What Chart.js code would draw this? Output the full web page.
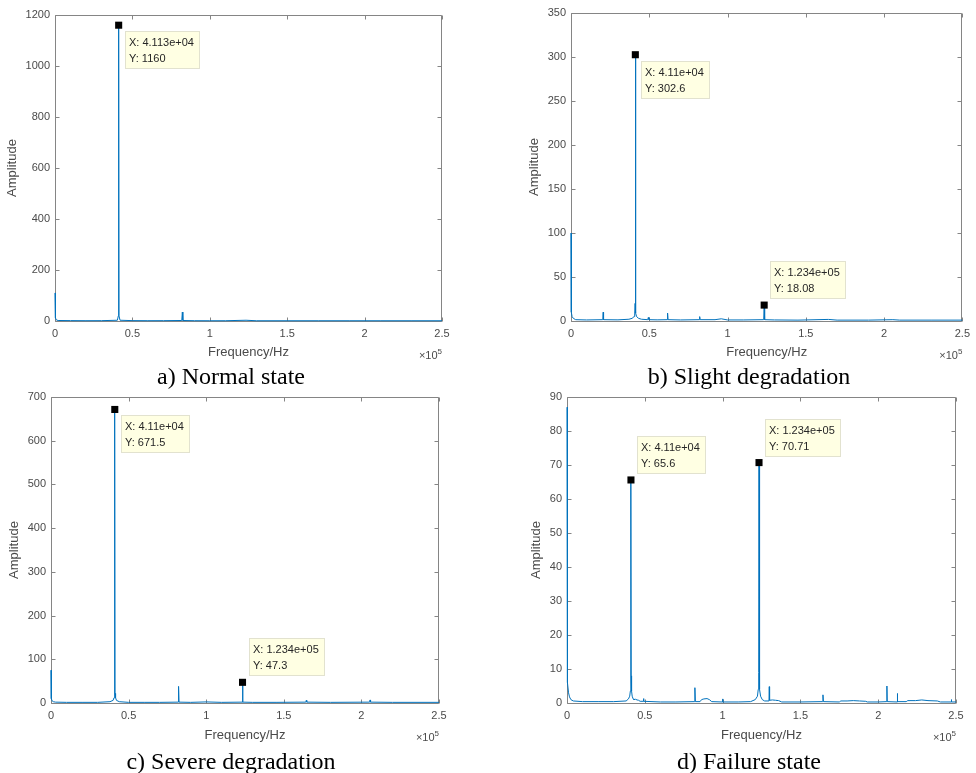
<!DOCTYPE html>
<html><head><meta charset="utf-8">
<script src="https://cdn.jsdelivr.net/npm/chart.js@4.4.1/dist/chart.umd.min.js"></script>
<style>
html,body{margin:0;padding:0;background:#fff;}
body{width:976px;height:773px;position:relative;overflow:hidden;}
canvas{position:absolute;}
.cap{position:absolute;font-family:'Liberation Serif','Times New Roman',serif;font-size:24px;line-height:24px;color:#000;white-space:nowrap;transform:translateX(-50%);}
</style></head><body>
<canvas id="ca" width="490" height="365" style="left:0px;top:0px"></canvas>
<canvas id="cb" width="481" height="365" style="left:495px;top:0px"></canvas>
<canvas id="cc" width="490" height="365" style="left:0px;top:385px"></canvas>
<canvas id="cd" width="481" height="365" style="left:495px;top:385px"></canvas>
<div class="cap" style="left:231px;top:364px">a) Normal state</div>
<div class="cap" style="left:749px;top:364px">b) Slight degradation</div>
<div class="cap" style="left:231px;top:749px">c) Severe degradation</div>
<div class="cap" style="left:749px;top:749px">d) Failure state</div>
<script>
// ---------- data (frequency in Hz, amplitude) ----------
const xTickLabels = [0, 0.5, 1, 1.5, 2, 2.5];   // x 10^5 Hz
const xScaleFactor = 1e5;

const yTicksA = [0, 200, 400, 600, 800, 1000, 1200];
const freqA = [0, 150, 400, 900, 2000, 10000, 20000, 30000, 40300, 40900, 41130, 41350, 42000, 50000, 60000, 70000, 81900, 82260, 82600, 90000, 100000, 110000, 123400, 130000, 150000, 170000, 190000, 210000, 230000, 250000];
const ampA  = [110, 40, 12, 4, 2, 1.5, 1.2, 1.3, 3, 20, 1160, 20, 3, 1.5, 1.2, 1.3, 2, 35, 2, 1.2, 1, 1.1, 3, 1, 1, 1, 1, 1, 1, 1];
const tipXA = [41130];
const tipYA = [1160];

const yTicksB = [0, 50, 100, 150, 200, 250, 300, 350];
const freqB = [0, 100, 300, 700, 1500, 3000, 10000, 20300, 20560, 20800, 30000, 37000, 39000, 40300, 40700, 40950, 41100, 41250, 41500, 41900, 43200, 45000, 49000, 49400, 49800, 55000, 61400, 61700, 62000, 70000, 81900, 82200, 82500, 92000, 96000, 100000, 110000, 123100, 123400, 123700, 130000, 145000, 164500, 170000, 190000, 205600, 210000, 230000, 250000];
const ampB  = [100, 30, 10, 5, 3, 1.5, 1.2, 1.5, 10, 1.5, 1.3, 2, 3, 5, 9, 20, 302.6, 20, 9, 5, 3, 2, 1.5, 4, 1.5, 1.3, 1.5, 9, 1.5, 1.2, 1.5, 5, 1.5, 1.5, 2.5, 1.2, 1.2, 1.5, 18.08, 1.5, 1.2, 1, 1.8, 1, 1, 1.5, 1, 1, 1];
const tipXB = [41100, 123400];
const tipYB = [302.6, 18.08];

const yTicksC = [0, 100, 200, 300, 400, 500, 600, 700];
const freqC = [0, 100, 300, 700, 1500, 3000, 10000, 20000, 30000, 38000, 40000, 40600, 40950, 41100, 41250, 41600, 42200, 44000, 50000, 60000, 70000, 81900, 82200, 82500, 90000, 100000, 110000, 123100, 123400, 123700, 130000, 145000, 164200, 164500, 164800, 180000, 205300, 205600, 205900, 220000, 250000];
const ampC  = [75, 25, 10, 5, 3, 2, 1.5, 1.5, 1.5, 3, 6, 12, 22, 671.5, 22, 12, 6, 3, 1.5, 1.5, 1.5, 2, 38, 2, 1.5, 2.5, 1.5, 2, 47.3, 2, 1.5, 1.5, 2, 6, 2, 1.5, 2, 7, 2, 1.5, 1.5];
const tipXC = [41100, 123400];
const tipYC = [671.5, 47.3];

const yTicksD = [0, 10, 20, 30, 40, 50, 60, 70, 80, 90];
const freqD = [0, 80, 150, 300, 600, 1000, 1600, 2500, 4000, 10000, 20000, 30000, 38000, 39500, 40300, 40700, 40950, 41100, 41250, 41500, 41900, 42500, 43000, 44000, 45000, 46000, 47000, 49000, 49200, 49400, 60000, 70000, 81900, 82200, 82500, 85500, 86500, 88000, 90000, 91500, 93000, 99800, 100000, 100200, 110000, 118000, 121000, 122400, 122900, 123200, 123400, 123600, 123900, 124400, 125500, 127000, 129800, 130000, 130200, 132000, 134000, 136000, 138000, 150000, 164200, 164500, 164800, 175000, 176000, 180000, 184000, 188000, 192000, 193000, 200000, 205400, 205600, 205800, 212100, 212300, 212500, 218000, 219000, 224000, 228000, 232000, 238000, 240000, 246800, 247000, 247200, 250000];
const ampD  = [87, 40, 14, 12, 6, 3, 1.8, 1, 0.6, 0.4, 0.4, 0.4, 0.6, 1.2, 2, 3.5, 8, 65.6, 8, 3.5, 2, 1.2, 1, 1.1, 0.9, 0.8, 0.5, 0.5, 1.3, 0.5, 0.3, 0.3, 0.4, 4.5, 0.4, 0.4, 1, 1.2, 1.3, 1, 0.4, 0.3, 1.2, 0.3, 0.3, 0.4, 1, 2, 4, 9, 70.71, 9, 4, 2, 1, 0.6, 0.6, 4.8, 0.8, 0.9, 0.8, 0.7, 0.3, 0.3, 0.4, 2.4, 0.4, 0.3, 0.6, 0.6, 0.7, 0.6, 0.5, 0.3, 0.3, 0.4, 5, 0.4, 0.3, 2.8, 0.4, 0.4, 0.7, 0.7, 0.9, 0.7, 0.6, 0.3, 0.3, 1, 0.3, 0.3];
const tipXD = [41100, 123400];
const tipYD = [65.6, 70.71];

// ---------- layout / style ----------
const FONT = "'Liberation Sans', Arial, Helvetica, sans-serif";
const TXT = '#4a4a4a';
const LINE = 'rgb(0,114,189)';

function fmt4g(v) {
  const e = Math.floor(Math.log10(Math.abs(v)));
  if (e < -4 || e >= 4) {
    const m = String(parseFloat((v / Math.pow(10, e)).toPrecision(4)));
    return m + 'e' + (e < 0 ? '-' : '+') + String(Math.abs(e)).padStart(2, '0');
  }
  return String(parseFloat(v.toPrecision(4)));
}

const matlabAxes = {
  id: 'matlabAxes',
  beforeDatasetsDraw(chart) {
    const {ctx, chartArea: a, scales: {x, y}} = chart;
    const L = Math.round(a.left) + 0.5, R = Math.round(a.right) - 0.5;
    const T = Math.round(a.top) + 0.5, B = Math.round(a.bottom) + 0.5;
    ctx.save();
    ctx.strokeStyle = '#858585';
    ctx.lineWidth = 1;
    ctx.beginPath();
    ctx.rect(L, T, R - L, B - T);
    const tl = 4;
    y.ticks.forEach(t => {
      const p = Math.round(y.getPixelForValue(t.value)) + 0.5;
      ctx.moveTo(L, p); ctx.lineTo(L + tl, p);
      ctx.moveTo(R, p); ctx.lineTo(R - tl, p);
    });
    x.ticks.forEach(t => {
      const p = Math.round(x.getPixelForValue(t.value)) + 0.5;
      ctx.moveTo(p, B); ctx.lineTo(p, B - tl);
      ctx.moveTo(p, T); ctx.lineTo(p, T + tl);
    });
    ctx.stroke();
    // exponent label
    ctx.fillStyle = TXT;
    ctx.textBaseline = 'alphabetic';
    ctx.font = '8px ' + FONT;
    const sup = '5';
    const sw = ctx.measureText(sup).width;
    ctx.textAlign = 'right';
    ctx.fillText(sup, a.right, a.bottom + 33);
    ctx.font = '11px ' + FONT;
    ctx.fillText('\u00d710', a.right - sw, a.bottom + 38);
    ctx.restore();
  },
  afterDatasetsDraw(chart, args, opts) {
    const {ctx, scales: {x, y}} = chart;
    ctx.save();
    ctx.font = '11px ' + FONT;
    opts.tipX.forEach((tx, i) => {
      const ty = opts.tipY[i];
      const px = x.getPixelForValue(tx), py = y.getPixelForValue(ty);
      const l1 = 'X: ' + fmt4g(tx), l2 = 'Y: ' + fmt4g(ty);
      const w = Math.round(Math.max(ctx.measureText(l1).width, ctx.measureText(l2).width) + 10);
      const h = 38;
      const bx = Math.round(px + 6);
      const by = opts.place[i] === 'below' ? Math.round(py + 6) : Math.round(py - 6 - h);
      ctx.fillStyle = '#ffffe3';
      ctx.fillRect(bx, by, w, h);
      ctx.strokeStyle = '#e2e2cf';
      ctx.lineWidth = 1;
      ctx.strokeRect(bx + 0.5, by + 0.5, w - 1, h - 1);
      ctx.fillStyle = '#262626';
      ctx.textAlign = 'left';
      ctx.textBaseline = 'middle';
      ctx.fillText(l1, bx + 4, by + 12);
      ctx.fillText(l2, bx + 4, by + 28);
    });
    ctx.restore();
  }
};

function makeChart(id, cfg) {
  new Chart(document.getElementById(id), {
    type: 'scatter',
    data: {
      datasets: [
        {
          data: cfg.tipX.map((v, i) => ({x: v, y: cfg.tipY[i]})),
          showLine: false, pointStyle: 'rect', pointRadius: 5, pointBorderWidth: 0,
          pointBackgroundColor: '#000', order: 0, clip: false
        },
        {
          data: cfg.freq.map((v, i) => ({x: v, y: cfg.amp[i]})),
          showLine: true, borderColor: LINE, borderWidth: 1, pointRadius: 0,
          borderJoinStyle: 'bevel', order: 1, clip: 2
        }
      ]
    },
    options: {
      responsive: false, animation: false, devicePixelRatio: 1, events: [],
      layout: {padding: {left: 0, top: cfg.plotT, right: cfg.w - cfg.plotR, bottom: 0}},
      plugins: {
        legend: {display: false}, tooltip: {enabled: false},
        matlabAxes: {tipX: cfg.tipX, tipY: cfg.tipY, place: cfg.place}
      },
      scales: {
        x: {
          type: 'linear', min: 0, max: xTickLabels[xTickLabels.length - 1] * xScaleFactor,
          afterBuildTicks: s => { s.ticks = xTickLabels.map(v => ({value: v * xScaleFactor})); },
          afterFit: s => { s.height = cfg.h - cfg.plotB; },
          ticks: {callback: v => String(v / xScaleFactor), padding: 6, color: TXT, font: {family: FONT, size: 11}, maxRotation: 0, autoSkip: false},
          grid: {display: false, drawTicks: false}, border: {display: false},
          title: {display: true, text: 'Frequency/Hz', color: TXT, font: {family: FONT, size: 13}, padding: {top: 0, bottom: cfg.xTitlePad}}
        },
        y: {
          type: 'linear', min: 0, max: cfg.yTicks[cfg.yTicks.length - 1],
          afterBuildTicks: s => { s.ticks = cfg.yTicks.map(v => ({value: v})); },
          afterFit: s => { s.width = cfg.plotL; },
          ticks: {callback: v => String(v), padding: 5, color: TXT, font: {family: FONT, size: 11}, autoSkip: false},
          grid: {display: false, drawTicks: false}, border: {display: false},
          title: {display: true, text: 'Amplitude', color: TXT, font: {family: FONT, size: 13}, padding: {top: cfg.yTitlePad, bottom: 0}}
        }
      }
    },
    plugins: [matlabAxes]
  });
}

makeChart('ca', {w: 490, h: 365, plotL: 55, plotT: 15, plotR: 442, plotB: 321, xTitlePad: 5, yTitlePad: 5,
  freq: freqA, amp: ampA, yTicks: yTicksA, tipX: tipXA, tipY: tipYA, place: ['below']});
makeChart('cb', {w: 481, h: 365, plotL: 76, plotT: 13, plotR: 468, plotB: 321, xTitlePad: 5, yTitlePad: 32,
  freq: freqB, amp: ampB, yTicks: yTicksB, tipX: tipXB, tipY: tipYB, place: ['below', 'above']});
makeChart('cc', {w: 490, h: 365, plotL: 51, plotT: 12, plotR: 439, plotB: 318, xTitlePad: 7, yTitlePad: 7,
  freq: freqC, amp: ampC, yTicks: yTicksC, tipX: tipXC, tipY: tipYC, place: ['below', 'above']});
makeChart('cd', {w: 481, h: 365, plotL: 72, plotT: 12, plotR: 461, plotB: 318, xTitlePad: 7, yTitlePad: 34,
  freq: freqD, amp: ampD, yTicks: yTicksD, tipX: tipXD, tipY: tipYD, place: ['above', 'above']});
</script>
</body></html>
